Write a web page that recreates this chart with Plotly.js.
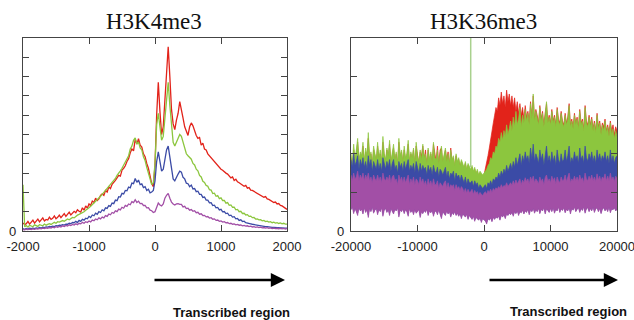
<!DOCTYPE html>
<html>
<head>
<meta charset="utf-8">
<script src="https://cdn.plot.ly/plotly-3.0.1.min.js"></script>
<style>html,body{margin:0;padding:0;background:#fff;}#chart{width:634px;height:320px;}</style>
</head>
<body>
<div id="chart"></div>
<script>
// ---------- Left panel: H3K4me3, x from -2000 to 2000, step 25 ----------
const leftStart = -2000, leftStep = 25;
const leftXTicks = [-2000, -1000, 0, 1000, 2000];
const leftYTicks = [0,1,2,3,4,5,6,7,8,9,10];

const k4Red = [
0.42,0.33,0.38,0.5,0.36,0.44,0.56,0.41,
0.5,0.62,0.47,0.55,0.68,0.52,0.6,0.57,
0.72,0.6,0.66,0.78,0.64,0.71,0.82,0.69,
0.78,0.9,0.76,0.85,0.98,0.83,0.92,1.02,
0.95,1.1,1.02,0.98,1.2,1.08,1.3,1.18,
1.4,1.32,1.55,1.48,1.7,1.58,1.66,1.85,
1.92,1.85,2.1,2.02,2.28,2.2,2.42,2.5,
2.62,2.75,2.88,2.84,3.15,3.25,3.38,3.6,
3.75,4.05,4.25,4.15,4.75,4.5,4.78,4.45,
4.35,4.0,3.85,3.5,3.25,2.85,2.45,2.3,
3.4,6.0,7.7,6.2,5.0,5.4,7.0,8.6,
9.55,8.0,6.3,5.55,5.25,5.75,6.1,6.7,
6.35,5.85,5.4,5.15,4.95,5.4,5.6,5.45,
5.15,4.95,4.8,4.85,4.45,4.55,4.25,4.2,
4.0,3.9,3.78,3.7,3.55,3.5,3.38,3.3,
3.2,3.15,3.05,3.0,2.95,2.82,2.75,2.8,
2.62,2.68,2.55,2.5,2.45,2.38,2.32,2.36,
2.22,2.25,2.12,2.1,2.05,1.98,1.94,1.9,
1.85,1.82,1.75,1.78,1.66,1.64,1.58,1.55,
1.48,1.5,1.4,1.42,1.33,1.3,1.24,1.22,
1.12];

const k4Green = [
2.4,0.22,0.28,0.2,0.3,0.26,0.22,0.32,
0.28,0.24,0.33,0.3,0.27,0.36,0.3,0.34,
0.38,0.34,0.41,0.45,0.4,0.48,0.46,0.5,
0.54,0.5,0.58,0.62,0.58,0.66,0.7,0.68,
0.76,0.82,0.86,0.9,0.96,1.0,1.08,1.12,
1.2,1.28,1.36,1.45,1.52,1.62,1.7,1.8,
1.9,2.0,2.08,2.2,2.28,2.4,2.5,2.62,
2.72,2.88,2.98,3.12,3.25,3.42,3.55,3.78,
3.9,4.25,4.4,4.7,4.82,4.5,4.62,4.3,
4.2,3.85,3.65,3.3,3.05,2.7,2.4,2.5,
3.5,5.5,6.1,5.3,4.7,4.9,6.0,7.0,
7.7,6.5,5.3,4.6,4.4,4.6,4.8,5.0,
4.9,4.55,4.25,4.0,3.9,3.78,3.72,3.5,
3.42,3.2,3.12,2.88,2.8,2.58,2.52,2.36,
2.32,2.14,2.12,1.94,1.96,1.8,1.84,1.68,
1.72,1.58,1.58,1.44,1.47,1.33,1.35,1.23,
1.24,1.1,1.12,1.0,1.02,0.91,0.92,0.83,
0.85,0.76,0.77,0.69,0.7,0.62,0.63,0.58,
0.59,0.53,0.55,0.49,0.51,0.46,0.48,0.43,
0.46,0.41,0.43,0.39,0.42,0.37,0.4,0.36,
0.36];

const k4Blue = [
0.12,0.09,0.13,0.1,0.14,0.12,0.15,0.12,
0.16,0.14,0.18,0.15,0.2,0.18,0.21,0.2,
0.24,0.21,0.25,0.23,0.28,0.26,0.3,0.29,
0.33,0.31,0.36,0.35,0.4,0.38,0.44,0.43,
0.5,0.44,0.55,0.5,0.6,0.56,0.66,0.63,
0.76,0.7,0.83,0.79,0.92,0.86,1.0,0.96,
1.1,1.05,1.2,1.17,1.32,1.28,1.45,1.42,
1.6,1.57,1.78,1.76,1.95,1.92,2.1,2.08,
2.28,2.24,2.48,2.45,2.72,2.52,2.64,2.4,
2.44,2.25,2.3,2.1,2.16,1.98,2.02,2.1,
2.6,3.6,4.1,3.6,3.1,3.2,3.8,4.2,
4.4,3.8,3.1,2.7,2.6,2.8,2.95,3.1,
3.05,2.78,2.7,2.48,2.45,2.3,2.38,2.18,
2.2,2.04,2.06,1.9,1.9,1.74,1.76,1.6,
1.6,1.46,1.47,1.32,1.34,1.2,1.22,1.09,
1.12,0.99,1.01,0.9,0.92,0.8,0.82,0.72,
0.74,0.63,0.65,0.55,0.58,0.49,0.51,0.43,
0.42,0.4,0.37,0.35,0.33,0.31,0.3,0.28,
0.27,0.26,0.25,0.23,0.23,0.21,0.21,0.19,
0.19,0.18,0.18,0.17,0.17,0.16,0.16,0.15,
0.15];

const k4Purple = [
0.08,0.06,0.09,0.07,0.1,0.08,0.11,0.09,
0.12,0.1,0.13,0.11,0.15,0.13,0.16,0.14,
0.18,0.15,0.2,0.17,0.22,0.19,0.24,0.21,
0.27,0.23,0.29,0.26,0.32,0.28,0.34,0.31,
0.38,0.33,0.4,0.37,0.45,0.4,0.48,0.44,
0.52,0.47,0.57,0.53,0.62,0.58,0.68,0.63,
0.72,0.68,0.8,0.76,0.88,0.84,0.96,0.92,
1.04,1.0,1.13,1.09,1.23,1.18,1.33,1.28,
1.4,1.36,1.52,1.47,1.62,1.48,1.55,1.42,
1.43,1.32,1.33,1.2,1.21,1.08,1.05,0.96,
1.0,1.25,1.45,1.35,1.3,1.4,1.7,1.85,
1.95,1.7,1.5,1.4,1.35,1.4,1.42,1.38,
1.38,1.25,1.28,1.16,1.18,1.08,1.11,1.02,
1.05,0.95,0.97,0.87,0.89,0.8,0.81,0.73,
0.75,0.67,0.69,0.61,0.63,0.55,0.57,0.5,
0.52,0.46,0.48,0.42,0.44,0.38,0.4,0.35,
0.37,0.32,0.34,0.3,0.31,0.27,0.29,0.25,
0.27,0.23,0.25,0.21,0.23,0.19,0.21,0.18,
0.2,0.16,0.18,0.15,0.17,0.14,0.16,0.13,
0.15,0.12,0.14,0.11,0.14,0.11,0.13,0.1,
0.12];

// ---------- Right panel: H3K36me3, x from -20000 to 20000, step 200 ----------
const rightStart = -20000, rightStep = 200;
const rightXTicks = [-20000, -10000, 0, 10000, 20000];
const rightYTicks = [0,1,2,3,4,5];

const k36RedTop = [
1.9,1.7,2.1,1.85,2.0,2.3,1.8,1.95,1.9,2.2,
1.75,2.05,1.9,2.4,1.85,2.0,1.7,2.1,1.95,1.8,
2.2,1.85,2.0,1.75,2.3,1.95,1.8,2.1,1.9,2.25,
1.75,1.95,2.15,1.8,2.0,1.7,2.3,1.9,2.05,1.75,
2.1,1.85,1.95,2.25,1.75,2.0,1.85,2.1,1.7,2.2,
1.9,1.75,2.05,1.95,2.2,1.85,2.1,1.7,2.1,1.8,
2.0,1.75,2.25,2.05,1.8,2.2,1.7,2.1,2.15,1.75,
1.9,2.1,1.85,2.05,1.7,2.15,1.8,1.9,1.65,1.95,
1.75,1.85,1.65,1.8,1.7,1.6,1.75,1.55,1.7,1.6,
1.55,1.65,1.5,1.6,1.45,1.55,1.4,1.5,1.45,1.4,
1.45,1.6,1.75,1.95,2.15,2.4,2.6,2.8,3.0,3.2,
3.1,3.45,3.25,3.6,3.3,3.5,3.2,3.65,3.35,3.55,
3.25,3.5,3.2,3.45,3.1,3.35,3.05,3.3,3.0,3.2,
2.9,3.25,2.95,3.1,2.85,3.35,2.95,3.5,2.9,3.15,
3.0,2.8,3.25,2.9,3.1,2.75,3.05,3.3,2.85,3.0,
2.8,3.15,2.85,3.0,2.75,3.2,2.9,2.8,3.1,2.85,
2.75,3.05,2.8,2.95,3.3,2.75,2.9,2.7,3.05,2.8,
2.95,2.7,3.15,2.8,2.9,2.65,3.25,2.85,2.75,3.0,
2.75,2.95,2.65,2.85,2.6,3.05,2.7,2.85,2.55,2.8,
2.7,2.9,2.6,2.75,2.55,2.85,2.6,2.75,2.5,2.7,
2.6];

const k36GreenTop = [
2.0,1.75,2.25,1.9,2.1,2.4,1.85,2.05,1.95,2.3,
1.8,2.15,1.95,2.55,1.9,2.05,1.75,2.2,2.0,1.85,
2.3,1.9,2.1,1.8,2.45,2.0,1.85,2.15,1.95,2.35,
1.8,2.0,2.25,1.85,2.05,1.75,2.4,1.95,2.1,1.8,
2.2,1.9,2.0,2.35,1.8,2.05,1.9,2.15,1.75,2.3,
1.95,1.8,2.1,1.85,2.25,1.9,2.0,1.75,2.15,1.85,
2.05,1.8,2.3,1.9,1.85,2.1,1.75,2.0,2.2,1.8,
1.95,2.15,1.8,2.0,1.75,2.1,1.85,1.95,1.7,2.0,
1.8,1.9,1.7,1.85,1.75,1.65,1.8,1.6,1.75,1.65,
1.6,1.7,1.55,1.65,1.5,1.6,1.45,1.55,1.5,1.45,
1.5,1.55,1.6,1.7,1.75,1.9,1.85,2.05,2.0,2.2,
2.15,2.4,2.3,2.55,2.35,2.6,2.45,2.75,2.5,2.65,
2.85,2.6,2.95,2.7,3.1,2.75,2.9,3.2,2.7,3.0,
2.8,3.15,2.85,3.05,2.75,3.3,2.9,3.55,2.85,3.1,
2.95,2.75,3.2,2.85,3.05,2.7,3.0,3.35,2.8,2.95,
2.75,3.1,2.8,2.95,2.7,3.15,2.85,2.75,3.05,2.8,
2.7,3.0,2.75,2.9,3.25,2.7,2.85,2.65,3.0,2.75,
2.9,2.65,3.1,2.75,2.85,2.6,3.2,2.8,2.7,2.95,
2.7,2.9,2.6,2.8,2.55,3.0,2.65,2.8,2.5,2.75,
2.6,2.85,2.55,2.7,2.45,2.8,2.5,2.65,2.4,2.6,
2.45];

const k36GreenSpikeX = [-2000, -2000];
const k36GreenSpikeY = [1.65, 6];

const k36BlueTop = [
1.85,1.65,2.0,1.7,1.8,1.95,1.6,1.85,1.7,1.9,
1.65,1.8,1.6,1.95,1.7,1.85,1.55,1.8,1.7,1.6,
1.85,1.6,1.75,1.55,1.9,1.7,1.6,1.8,1.65,1.85,
1.55,1.75,1.85,1.6,1.7,1.5,1.8,1.65,1.75,1.55,
1.8,1.6,1.7,1.85,1.55,1.7,1.6,1.75,1.5,1.8,
1.65,1.5,1.75,1.55,1.7,1.6,1.65,1.45,1.7,1.55,
1.65,1.45,1.7,1.55,1.5,1.65,1.4,1.6,1.55,1.45,
1.55,1.65,1.4,1.55,1.35,1.5,1.45,1.55,1.3,1.5,
1.4,1.45,1.3,1.45,1.35,1.25,1.4,1.2,1.35,1.25,
1.25,1.3,1.15,1.3,1.2,1.25,1.1,1.2,1.15,1.1,
1.15,1.2,1.1,1.25,1.2,1.3,1.2,1.35,1.3,1.4,
1.35,1.5,1.4,1.55,1.45,1.6,1.5,1.7,1.55,1.65,
1.75,1.6,1.8,1.65,1.9,1.7,1.85,2.0,1.7,1.95,
1.8,2.05,1.85,1.95,1.75,2.15,1.85,2.25,1.8,2.0,
1.9,1.75,2.1,1.85,2.0,1.7,1.95,2.2,1.8,1.95,
1.75,2.05,1.8,1.95,1.7,2.1,1.85,1.75,2.0,1.8,
1.85,2.1,1.8,1.95,2.2,1.75,1.9,1.8,2.05,1.85,
1.95,1.75,2.15,1.85,1.95,1.75,2.2,1.9,1.8,2.0,
1.85,2.05,1.8,1.95,1.75,2.1,1.85,2.0,1.8,1.95,
1.85,2.05,1.8,1.95,1.75,2.1,1.8,1.95,1.75,1.9,
1.95];

const k36PurpleTop = [
1.45,1.3,1.5,1.35,1.4,1.55,1.3,1.45,1.35,1.5,
1.3,1.45,1.35,1.5,1.3,1.4,1.25,1.45,1.35,1.3,
1.45,1.3,1.4,1.25,1.5,1.35,1.3,1.4,1.3,1.45,
1.25,1.4,1.45,1.3,1.35,1.2,1.45,1.3,1.4,1.25,
1.4,1.25,1.35,1.45,1.2,1.35,1.25,1.4,1.2,1.35,
1.3,1.2,1.4,1.25,1.35,1.2,1.3,1.15,1.35,1.2,
1.3,1.15,1.35,1.2,1.2,1.3,1.1,1.25,1.2,1.15,
1.25,1.3,1.1,1.25,1.1,1.2,1.15,1.2,1.05,1.2,
1.1,1.15,1.05,1.15,1.1,1.0,1.1,0.98,1.08,1.0,
1.02,1.08,0.95,1.05,0.98,1.02,0.92,1.0,0.95,0.92,
0.98,1.02,0.95,1.05,1.0,1.08,1.0,1.1,1.05,1.12,
1.08,1.15,1.1,1.2,1.12,1.18,1.15,1.25,1.15,1.22,
1.25,1.18,1.3,1.2,1.32,1.22,1.3,1.35,1.2,1.32,
1.25,1.38,1.28,1.35,1.22,1.4,1.3,1.42,1.25,1.35,
1.3,1.22,1.4,1.28,1.35,1.2,1.38,1.45,1.28,1.35,
1.25,1.42,1.3,1.38,1.22,1.4,1.3,1.25,1.4,1.3,
1.32,1.45,1.28,1.38,1.5,1.25,1.35,1.3,1.42,1.3,
1.4,1.28,1.45,1.32,1.38,1.25,1.5,1.35,1.3,1.42,
1.32,1.45,1.3,1.4,1.28,1.48,1.32,1.42,1.28,1.4,
1.35,1.48,1.3,1.42,1.3,1.5,1.32,1.4,1.28,1.42,
1.38];

const k36PurpleBottom = [
0.55,0.62,0.45,0.58,0.5,0.4,0.6,0.52,0.56,0.44,
0.6,0.48,0.55,0.35,0.58,0.5,0.62,0.46,0.54,0.58,
0.42,0.56,0.5,0.6,0.38,0.54,0.58,0.48,0.55,0.4,
0.58,0.5,0.44,0.56,0.52,0.6,0.36,0.54,0.5,0.57,
0.45,0.55,0.5,0.38,0.58,0.48,0.54,0.42,0.56,0.46,
0.52,0.55,0.35,0.5,0.45,0.53,0.48,0.56,0.4,0.52,
0.47,0.53,0.38,0.5,0.52,0.42,0.55,0.46,0.32,0.5,
0.45,0.4,0.52,0.44,0.5,0.36,0.48,0.42,0.5,0.4,
0.46,0.38,0.45,0.32,0.44,0.4,0.36,0.43,0.3,0.4,
0.36,0.3,0.38,0.25,0.35,0.32,0.28,0.34,0.22,0.32,
0.3,0.26,0.18,0.32,0.28,0.34,0.24,0.35,0.3,0.36,
0.33,0.38,0.28,0.4,0.36,0.42,0.32,0.44,0.4,0.46,
0.42,0.48,0.38,0.5,0.45,0.52,0.4,0.5,0.47,0.54,
0.44,0.52,0.48,0.56,0.42,0.55,0.5,0.58,0.46,0.55,
0.5,0.58,0.45,0.56,0.52,0.6,0.44,0.57,0.53,0.48,
0.58,0.5,0.6,0.46,0.56,0.52,0.62,0.48,0.57,0.53,
0.6,0.47,0.56,0.52,0.6,0.44,0.58,0.54,0.62,0.5,
0.56,0.6,0.48,0.58,0.53,0.62,0.46,0.57,0.6,0.5,
0.58,0.52,0.62,0.48,0.57,0.6,0.5,0.58,0.45,0.56,
0.6,0.52,0.58,0.5,0.62,0.47,0.57,0.55,0.6,0.52,
0.56];

const titles = ['H3K4me3', 'H3K36me3'];
const arrowLabel = 'Transcribed region';

const RED = '#e2231a', GREEN = '#8cc63e', BLUE = '#3b4ba6', PURPLE = '#a24fa6', SPIKE = '#a9d18e';

function leftLine(y, color) {
  return {type:'scatter', mode:'lines', x0:leftStart, dx:leftStep, y:y,
    xaxis:'x', yaxis:'y', line:{color:color, width:1.3}, hoverinfo:'skip', showlegend:false};
}
function rightFill(y, color, fill, fillcolor, lw) {
  return {type:'scatter', mode:'lines', x0:rightStart, dx:rightStep, y:y,
    xaxis:'x2', yaxis:'y2', fill:fill, fillcolor:fillcolor,
    line:{color:color, width:lw}, hoverinfo:'skip', showlegend:false};
}

const data = [
  leftLine(k4Red, RED),
  leftLine(k4Green, GREEN),
  leftLine(k4Blue, BLUE),
  leftLine(k4Purple, PURPLE),
  rightFill(k36RedTop, RED, 'tozeroy', RED, 0.7),
  rightFill(k36GreenTop, GREEN, 'tozeroy', GREEN, 0.7),
  {type:'scatter', mode:'lines', x:k36GreenSpikeX, y:k36GreenSpikeY, xaxis:'x2', yaxis:'y2',
    line:{color:SPIKE, width:1.5}, hoverinfo:'skip', showlegend:false},
  rightFill(k36BlueTop, BLUE, 'tozeroy', BLUE, 0.7),
  rightFill(k36PurpleBottom, PURPLE, 'tozeroy', '#ffffff', 0.7),
  rightFill(k36PurpleTop, PURPLE, 'tonexty', PURPLE, 0.7)
];

const W = 634, H = 320;
function px(x){ return x / W; }
function py(y){ return 1 - y / H; }

const tickFont = {family:'Liberation Sans, Arial, sans-serif', size:13, color:'#222'};
function xAxis(domain, range, ticks, anchor) {
  return {domain:domain, range:range, anchor:anchor, tickvals:ticks, ticktext:ticks.map(String),
    ticks:'inside', ticklen:6, tickwidth:1, tickcolor:'#444', showline:true, linecolor:'#444', linewidth:1.2,
    mirror:'ticks', showgrid:false, zeroline:false, tickfont:tickFont, fixedrange:true,
    ticklabeloverflow:'allow', ticklabelstandoff:3};
}
function yAxis(range, ticks, anchor) {
  return {domain:[py(231), py(38)], range:range, anchor:anchor, tickvals:ticks,
    ticktext:ticks.map(v => v === 0 ? '0' : ''),
    ticks:'inside', ticklen:6, tickwidth:1, tickcolor:'#444', showline:true, linecolor:'#444', linewidth:1.2,
    mirror:'ticks', showgrid:false, zeroline:false, tickfont:tickFont, fixedrange:true,
    ticklabeloverflow:'allow', ticklabelstandoff:3};
}

const titleFont = {family:'Liberation Serif, Times New Roman, serif', size:23, color:'#111'};
const labelFont = {family:'Liberation Sans, Arial, sans-serif', size:13, color:'#111', weight:'bold'};

const layout = {
  width:W, height:H, margin:{l:0, r:0, t:0, b:0},
  paper_bgcolor:'#fff', plot_bgcolor:'#fff', showlegend:false,
  xaxis: xAxis([px(23), px(287)], [-2000, 2000], leftXTicks, 'y'),
  yaxis: yAxis([0, 10], leftYTicks, 'x'),
  xaxis2: xAxis([px(351), px(617)], [-20000, 20000], rightXTicks, 'y2'),
  yaxis2: yAxis([0, 5], rightYTicks, 'x2'),
  annotations: [
    {xref:'paper', yref:'paper', x:px(154), y:py(21), text:titles[0], showarrow:false,
      xanchor:'center', yanchor:'middle', font:titleFont},
    {xref:'paper', yref:'paper', x:px(483), y:py(21), text:titles[1], showarrow:false,
      xanchor:'center', yanchor:'middle', font:titleFont},
    {xref:'paper', yref:'paper', x:px(285), y:py(280), text:'', showarrow:true,
      axref:'pixel', ayref:'pixel', ax:-132, ay:0, arrowhead:2, arrowsize:1.05, arrowwidth:2.7, arrowcolor:'#000'},
    {xref:'paper', yref:'paper', x:px(618), y:py(280), text:'', showarrow:true,
      axref:'pixel', ayref:'pixel', ax:-130, ay:0, arrowhead:2, arrowsize:1.05, arrowwidth:2.7, arrowcolor:'#000'},
    {xref:'paper', yref:'paper', x:px(231), y:py(312), text:arrowLabel, showarrow:false,
      xanchor:'center', yanchor:'middle', font:labelFont},
    {xref:'paper', yref:'paper', x:px(568), y:py(311), text:arrowLabel, showarrow:false,
      xanchor:'center', yanchor:'middle', font:labelFont}
  ]
};

Plotly.newPlot('chart', data, layout, {displayModeBar:false, staticPlot:true});
</script>
</body>
</html>
